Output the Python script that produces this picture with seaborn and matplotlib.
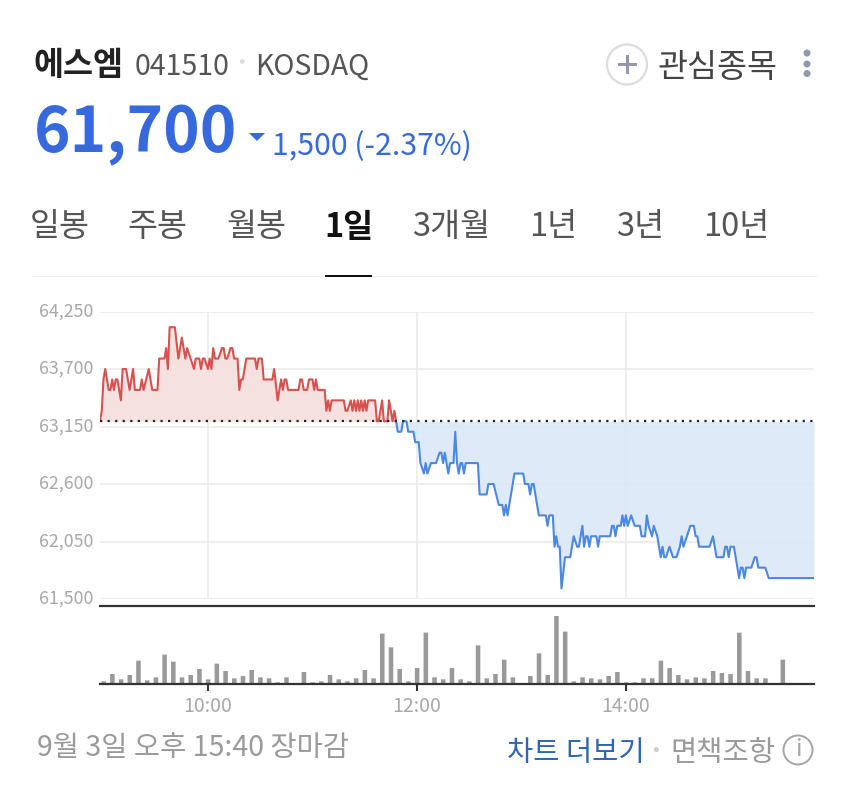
import numpy as np
import pandas as pd
import matplotlib
matplotlib.use("Agg")
import matplotlib.pyplot as plt
from matplotlib.patches import Circle, Polygon, Rectangle
import seaborn as sns

sns.set_theme(style="white")
plt.rcParams['font.family'] = ['Noto Sans CJK KR', 'DejaVu Sans']

BASE_PRICE = 63200
START = 537.9  # minutes after midnight at the left edge of the chart
SPAN = 410

red_minute = [0,1,2,3,4,5,6,7,8,9,10,11,12,13,15,17,19,20,23,24,25,28,30,33,34,37,38,39,40,43,45,47,49,50,52,54,55,57,58,59,60,62,63,64,65,66,68,70,71,72,73,75,76,77,79,80,81,82,84,89,90,91,93,94,99,100,102,104,105,106,107,108,114,115,116,117,119,120,122,123,124,125,129,130,131,132,133,134,140,141,142,144,145,146,147,148,149,150,151,152,153,154,158,159,160,161,162,163,165,166,168,169,170]
red_price = [63200,63300,63600,63700,63600,63500,63500,63600,63500,63600,63600,63500,63400,63700,63700,63500,63700,63500,63500,63600,63500,63700,63500,63500,63800,63800,63900,63700,64100,64100,63800,64000,63800,63900,63800,63700,63800,63800,63700,63800,63800,63700,63800,63700,63900,63800,63800,63900,63900,63800,63800,63900,63900,63800,63800,63500,63600,63600,63800,63800,63700,63800,63800,63600,63600,63700,63400,63600,63500,63600,63600,63500,63500,63600,63600,63500,63500,63600,63600,63500,63600,63500,63500,63300,63400,63300,63400,63400,63400,63300,63300,63400,63300,63400,63300,63400,63300,63400,63300,63400,63300,63400,63400,63200,63200,63300,63400,63200,63200,63400,63200,63300,63200]

blue_minute = [170,171,173,174,176,177,180,181,183,184,186,187,188,190,193,195,196,197,198,200,201,203,204,205,206,207,208,209,210,217,218,222,223,226,229,231,232,233,234,235,236,238,243,244,246,247,248,249,252,256,257,258,260,261,262,263,264,265,267,268,270,272,274,275,277,278,279,280,281,282,285,286,287,293,294,295,296,297,299,300,301,302,303,305,307,310,311,313,314,315,317,318,320,322,323,324,325,327,329,331,333,334,335,337,339,341,342,343,344,350,352,354,358,359,360,361,362,364,367,368,369,370,371,374,376,377,378,382,384,410]
blue_price = [63200,63100,63100,63200,63200,63100,63100,63000,63000,62800,62700,62800,62700,62800,62800,62900,62900,62800,62900,62700,62800,62800,63100,62800,62700,62800,62800,62700,62800,62800,62500,62500,62600,62600,62400,62400,62300,62400,62300,62400,62500,62700,62700,62600,62600,62500,62600,62600,62300,62300,62200,62300,62300,62000,62100,62000,62000,61600,61900,61900,61900,62100,62000,62000,62200,62000,62100,62100,62000,62100,62100,62000,62100,62100,62200,62200,62100,62200,62200,62300,62200,62300,62200,62300,62200,62200,62100,62100,62300,62200,62100,62200,62100,61900,62000,61900,61900,62000,61900,61900,62000,62100,62000,62100,62200,62200,62100,62100,62000,62000,62100,61900,61900,62000,62000,61900,62000,62000,61700,61800,61800,61700,61800,61800,61900,61900,61800,61800,61700,61700]

volume = [8,30,14,27,70,11,20,88,67,20,27,45,14,61,39,17,24,42,20,17,5,20,0,36,5,8,27,14,8,17,42,17,151,110,45,8,48,154,20,14,48,14,8,116,17,30,73,20,0,24,92,27,204,157,8,20,17,14,24,36,5,5,17,17,70,48,27,14,20,17,39,33,30,154,39,17,17,0,73]
volume_start = 540
volume_step = 5

price_ticks = [61500, 62050, 62600, 63150, 63700, 64250]
time_ticks = [600, 720, 840]
time_labels = ["10:00", "12:00", "14:00"]
tabs = ["일봉", "주봉", "월봉", "1일", "3개월", "1년", "3년", "10년"]
tab_x = [60, 157, 257, 349, 451, 553, 640, 736]

W, H = 850, 791
fig = plt.figure(figsize=(W/100, H/100), dpi=100, facecolor="white")

def axpx(l, t, r, b):
    return fig.add_axes([l/W, 1-b/H, (r-l)/W, (b-t)/H])

def tx(x, y, s, **kw):
    kw.setdefault("va", "center")
    return fig.text(x/W, 1-y/H, s, **kw)

RED, RED_F = "#d6524e", "#f6dede"
BLUE, BLUE_F = "#4a88e4", "#dce8f9"

ax = axpx(100, 311.5, 814, 599)
red = pd.DataFrame({"t": START+np.array(red_minute), "p": red_price})
blue = pd.DataFrame({"t": START+np.array(blue_minute), "p": blue_price})
ax.fill_between(red.t, red.p, BASE_PRICE, color=RED_F, lw=0, zorder=2, alpha=.9)
ax.fill_between(blue.t, blue.p, BASE_PRICE, color=BLUE_F, lw=0, zorder=2, alpha=.9)
sns.lineplot(data=red, x="t", y="p", ax=ax, color=RED, lw=1.5, estimator=None, errorbar=None, sort=False, zorder=4)
sns.lineplot(data=blue, x="t", y="p", ax=ax, color=BLUE, lw=1.5, estimator=None, errorbar=None, sort=False, zorder=4)
ax.axhline(BASE_PRICE, color="#222222", lw=1.6, ls=(0, (1, 2.4)), zorder=5)
ax.set_xlim(START, START+SPAN)
ax.set_ylim(61500, 64250)
ax.set_yticks(price_ticks)
ax.set_yticklabels([f"{v:,}" for v in price_ticks], fontsize=12.8, color="#a8a8a8", va="center")
ax.set_xticks(time_ticks)
ax.set_xticklabels([])
ax.grid(True, color="#e9e9e9", lw=1.1, zorder=1)
ax.set_axisbelow(True)
ax.tick_params(axis="y", length=0, pad=5)
ax.tick_params(axis="x", length=0)
ax.set_xlabel(""); ax.set_ylabel("")
for s in ax.spines.values():
    s.set_visible(False)

vx = axpx(100, 606.3, 814, 684)
vol_t = volume_start + volume_step*np.arange(len(volume))
sns.barplot(x=vol_t, y=volume, ax=vx, native_scale=True, color="#999999", width=0.52, saturation=1, errorbar=None)
for bar in vx.patches:
    bar.set_snap(False)
    bar.set_linewidth(0)
vx.set_xlim(START, START+SPAN)
vx.set_ylim(0, 233)
vx.set_yticks([])
vx.set_xticks(time_ticks)
vx.set_xticklabels(time_labels, fontsize=14, color="#a8a8a8")
vx.tick_params(axis="x", length=5, width=1.5, color="#333333", pad=4, bottom=True)
vx.set_xlabel(""); vx.set_ylabel("")
for k in ("left", "right"):
    vx.spines[k].set_visible(False)
for k in ("top", "bottom"):
    vx.spines[k].set_visible(True)
    vx.spines[k].set_color("#333333")
    vx.spines[k].set_linewidth(1.6)

# header
tx(33, 66, "에스엠", fontsize=23.5, fontweight="bold", color="#222222")
tx(135, 67, "041510", fontsize=20.5, color="#555555")
tx(241, 62, "•", fontsize=14, color="#dddddd", ha="center")
tx(255, 67, "KOSDAQ", fontsize=20.5, color="#555555")
tx(34, 135, "61,700", fontsize=44.7, fontweight="bold", color="#3569dc")
tx(272, 147, "1,500 (-2.37%)", fontsize=21.8, color="#3569dc")
tx(658, 68, "관심종목", fontsize=23.5, color="#444444")

ov = fig.add_axes([0, 0, 1, 1], zorder=10)
ov.set_xlim(0, W); ov.set_ylim(H, 0); ov.axis("off"); ov.patch.set_alpha(0)
ov.add_patch(Polygon([[249, 133], [265, 133], [257, 141]], closed=True, color="#3569dc", lw=0))
ov.add_patch(Circle((627, 64.5), 20, fill=False, ec="#dcdcdc", lw=1.6))
ov.add_patch(Rectangle((618, 63), 19, 3.4, color="#8f98ae", lw=0))
ov.add_patch(Rectangle((625.8, 55), 3.4, 19, color="#8f98ae", lw=0))
for y in (53, 64, 73.5):
    ov.add_patch(Circle((807, y), 3.5, color="#8f98ae", lw=0))
ov.add_patch(Rectangle((33, 275.5), 785, 1.2, color="#eeeeee", lw=0))
ov.add_patch(Rectangle((325, 274.5), 47, 2, color="#111111", lw=0))
ov.add_patch(Circle((798, 750), 14.5, fill=False, ec="#a5a5a5", lw=1.4))

# tabs
for lab, x in zip(tabs, tab_x):
    sel = lab == "1일"
    tx(x, 227, lab, fontsize=23.5, ha="center", color="#111111" if sel else "#555555",
       fontweight="bold" if sel else "normal")

# footer
tx(37, 748, "9월 3일 오후 15:40 장마감", fontsize=20.5, color="#9a9a9a")
tx(507, 753, "차트 더보기", fontsize=20.5, color="#2c66b4")
tx(655, 749, "•", fontsize=14, color="#cccccc", ha="center")
tx(670, 753, "면책조항", fontsize=20.5, color="#9a9a9a")
tx(798, 750, "i", fontsize=17, color="#a5a5a5", ha="center", zorder=11)

fig.savefig("out.png", dpi=100)
